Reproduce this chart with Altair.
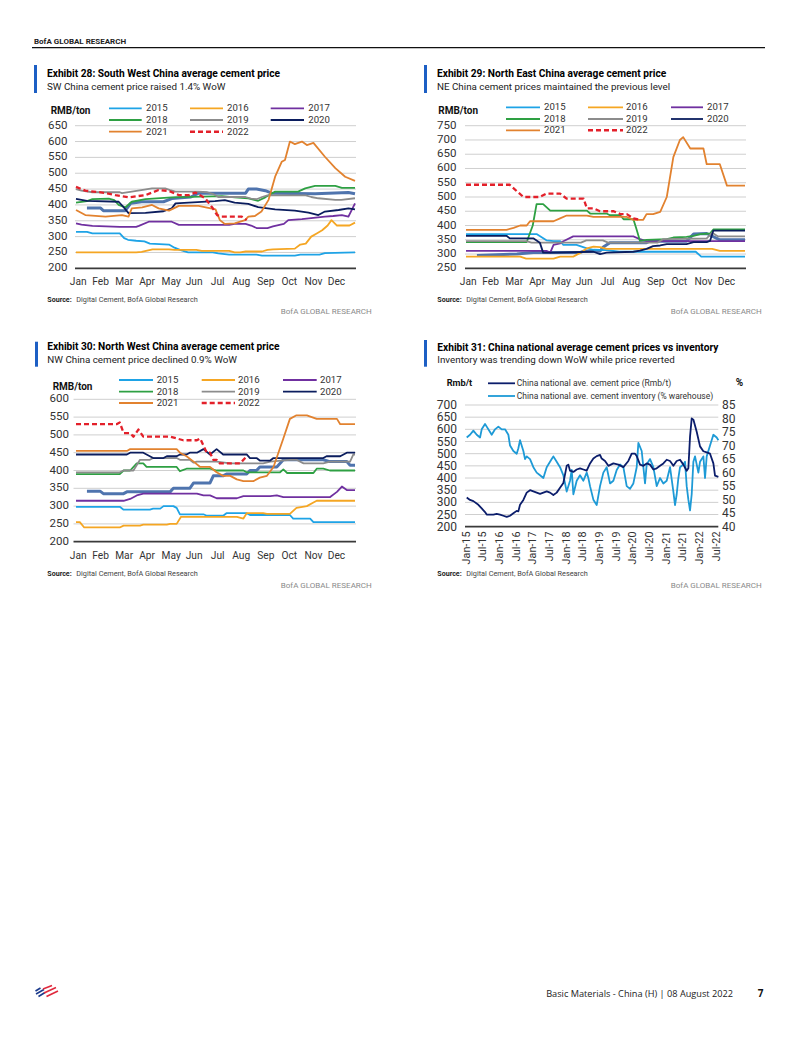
import altair as alt
import pandas as pd

# ------------------------------------------------------------------ data
months = ["Jan", "Feb", "Mar", "Apr", "May", "Jun", "Jul", "Aug", "Sep", "Oct", "Nov", "Dec"]
month_week = [0.4, 4.5, 8.8, 13.0, 17.4, 21.6, 25.9, 30.2, 34.7, 39.0, 43.4, 47.6]
legend_years = ["2015", "2016", "2017", "2018", "2019", "2020", "2021", "2022"]

sw_ticks = [200, 250, 300, 350, 400, 450, 500, 550, 600, 650]
ne_ticks = [250, 300, 350, 400, 450, 500, 550, 600, 650, 700, 750]
nw_ticks = [200, 250, 300, 350, 400, 450, 500, 550, 600]
nat_ticks_left = [200, 250, 300, 350, 400, 450, 500, 550, 600, 650, 700]
nat_ticks_right = [40, 45, 50, 55, 60, 65, 70, 75, 80, 85]
nat_xlabels = ["Jan-15", "Jul-15", "Jan-16", "Jul-16", "Jan-17", "Jul-17", "Jan-18", "Jul-18",
               "Jan-19", "Jul-19", "Jan-20", "Jul-20", "Jan-21", "Jul-21", "Jan-22", "Jul-22"]
nat_xpos = [2015.0, 2015.5, 2016.0, 2016.5, 2017.0, 2017.5, 2018.0, 2018.5,
            2019.0, 2019.5, 2020.0, 2020.5, 2021.0, 2021.5, 2022.0, 2022.5]

# --- Exhibit 28: South West China (week of year, RMB/ton)
sw_2015_w = [0, 2, 3, 8, 8.8, 9.5, 11, 12.5, 13.5, 17, 18, 19, 20.5, 25, 26, 28, 33, 34, 40, 41, 44.5, 45.5, 51]
sw_2015_v = [315, 315, 310, 310, 295, 290, 287, 285, 278, 275, 265, 258, 250, 250, 247, 243, 243, 240, 240, 243, 243, 248, 250]
sw_2016_w = [0, 11, 12, 13, 14, 17, 18, 22, 23, 28, 29, 30, 31, 34, 35, 36, 40, 41, 42, 43, 44, 45, 46, 46.7, 47.7, 50, 51]
sw_2016_v = [250, 250, 252, 256, 260, 260, 258, 258, 255, 255, 250, 250, 253, 253, 258, 260, 262, 275, 278, 300, 310, 320, 335, 352, 335, 335, 344]
sw_2017_w = [0, 1, 3, 8, 11, 11.5, 13.3, 17.5, 18.8, 28, 29, 31, 32, 33, 35, 36, 38, 38.8, 41.3, 45.5, 47, 48.6, 49.8, 51]
sw_2017_v = [342, 338, 334, 331, 331, 334, 347, 347, 337, 337, 340, 340, 335, 327, 327, 332, 340, 352, 355, 363, 365, 368, 363, 405]
sw_2018_w = [0, 2, 3, 6, 7, 7.8, 9, 10.2, 12.7, 17.5, 26.7, 29, 31.5, 33.3, 34.6, 36.4, 40.6, 41.9, 43.7, 47.4, 48.6, 51]
sw_2018_v = [407, 412, 418, 420, 415, 400, 392, 410, 418, 424, 428, 424, 421, 413, 424, 442, 442, 452, 460, 460, 454, 454]
sw_2019_w = [0, 1, 3, 8, 8.4, 10.2, 12.5, 13.9, 16.3, 17.2, 18.2, 22.4, 24, 25, 26, 31, 32, 33, 34, 35, 42, 43, 44.3, 47.4, 48.5, 51]
sw_2019_v = [450, 445, 440, 440, 437, 442, 448, 452, 452, 447, 442, 442, 440, 435, 425, 425, 420, 418, 425, 430, 430, 425, 421, 416, 416, 421]
sw_2020_w = [0, 2, 7.8, 8.6, 9.6, 12.7, 16, 17.5, 18.2, 25.4, 27.2, 29, 31.5, 33.3, 36.4, 40, 42.5, 44.3, 45.5, 48, 49.8, 51]
sw_2020_v = [419, 413, 410, 395, 374, 375, 380, 389, 405, 412, 415, 407, 403, 393, 386, 382, 376, 368, 379, 384, 389, 386]
sw_2021_w = [0, 1.7, 5.4, 8.4, 9.6, 10.2, 12.1, 13.9, 15.1, 17, 18.8, 22.4, 25.5, 26.3, 27.2, 29, 30.9, 31.5, 32.7, 33.9,
             35.2, 36.4, 37.6, 38.2, 39.1, 40, 41.3, 42.2, 43.4, 45.5, 47.4, 49.2, 51]
sw_2021_v = [384, 368, 363, 368, 363, 389, 392, 400, 389, 382, 397, 397, 386, 352, 340, 342, 352, 363, 365, 379,
             416, 489, 536, 542, 600, 592, 600, 589, 596, 552, 516, 489, 476]
sw_2022_w = [0, 1.7, 4.8, 7.2, 9.6, 12.7, 15.1, 17, 18.8, 20.6, 21.8, 23.6, 24.9, 25.8, 26.6, 30.3, 31.2]
sw_2022_v = [457, 445, 439, 431, 424, 431, 447, 444, 431, 431, 439, 421, 392, 368, 363, 363, 352]
sw_other_w = [2, 4.5, 5, 9, 10, 12, 16, 17.5, 21, 22.4, 31, 31.5, 33, 34.6, 35.8, 43.7, 49.8, 51]
sw_other_v = [390, 390, 382, 382, 405, 410, 410, 420, 425, 437, 437, 450, 450, 445, 437, 435, 439, 435]

# --- Exhibit 29: North East China
ne_2015_w = [0, 12.9, 14.7, 16, 17.2, 17.8, 20.2, 22.1, 23.3, 25.7, 28, 42, 43, 51]
ne_2015_v = [370, 370, 348, 345, 345, 332, 332, 320, 315, 314, 308, 308, 291, 291]
ne_2016_w = [0, 9.9, 11, 16, 17.2, 19.6, 21, 22.1, 23.3, 24.5, 25.7, 45, 46.4, 51]
ne_2016_v = [291, 291, 284, 284, 291, 291, 305, 320, 326, 324, 318, 318, 311, 311]
ne_2017_w = [0, 14.7, 15.4, 16, 17.2, 17.8, 19.6, 30.6, 31.8, 33, 51]
ne_2017_v = [311, 311, 305, 332, 337, 345, 362, 362, 352, 345, 345]
ne_2018_w = [0, 11.1, 12.2, 12.9, 14.1, 15.4, 22.1, 22.7, 25.7, 26.3, 28.2, 28.8, 30.6, 31.2, 31.8, 33, 36.7,
             37.9, 40.3, 41.6, 42.8, 44.6, 45.2, 51]
ne_2018_v = [342, 342, 400, 475, 475, 452, 452, 442, 442, 436, 436, 422, 422, 385, 346, 350, 352,
             358, 360, 364, 370, 372, 386, 386]
ne_2019_w = [0, 11, 12, 17, 21, 22, 25, 26, 35, 36, 44, 45, 46, 51]
ne_2019_v = [345, 345, 340, 340, 340, 348, 348, 340, 340, 352, 355, 375, 362, 362]
ne_2020_w = [0, 7.4, 8.0, 12.3, 13.5, 14.1, 16, 23.3, 24.5, 25.7, 30.6, 31.8, 33, 34.2, 35.5, 36.7, 40.3, 41.6,
             44, 44.6, 45.2, 51]
ne_2020_v = [364, 364, 355, 355, 340, 305, 305, 308, 300, 305, 308, 312, 318, 328, 330, 335, 335, 342,
             342, 346, 382, 382]
ne_2021_w = [0, 7.4, 8.7, 9.9, 11.1, 11.7, 16, 17.2, 18.4, 22.1, 23.3, 29.4, 30.6, 32.4, 33, 34.2, 35.5, 36.7,
             37.9, 39.1, 39.7, 41, 43.4, 44, 46.4, 47.7, 51]
ne_2021_v = [385, 385, 392, 400, 400, 415, 415, 425, 435, 435, 430, 430, 420, 420, 440, 440, 448, 500,
             640, 700, 710, 670, 670, 615, 615, 540, 540]
ne_2022_w = [0, 8, 9.3, 10.5, 13.5, 14.7, 17.2, 18.4, 21.5, 22.1, 23.3, 24.5, 27, 28.2, 29.4, 30.6, 31.8]
ne_2022_v = [543, 543, 520, 500, 500, 512, 512, 494, 494, 460, 460, 450, 450, 440, 440, 425, 420]
ne_other_w = [2, 9.3, 12.3, 20.8, 21.5, 24.5, 25.1, 26.3, 33, 33.6, 40.3, 41.6, 44, 46.4, 51]
ne_other_v = [295, 300, 305, 305, 310, 310, 325, 340, 340, 345, 345, 370, 372, 350, 350]

# --- Exhibit 30: North West China
nw_2015_w = [0, 8, 8.7, 13.5, 14.1, 15.4, 16, 17.8, 18.4, 19, 23.3, 23.9, 26.9, 27.5, 31.2, 31.8, 39.1, 39.7,
             42.8, 43.4, 51]
nw_2015_v = [298, 298, 290, 290, 293, 293, 300, 300, 295, 277, 277, 273, 273, 280, 280, 275, 275, 265,
             265, 255, 255]
nw_2016_w = [0, 0.7, 1.5, 8, 8.7, 11.7, 12.3, 16.6, 17.2, 18.4, 19.2, 29.4, 30.6, 31.2, 34.2, 34.9, 39.1, 40.3,
             42.2, 43.4, 44, 51]
nw_2016_v = [255, 255, 240, 240, 245, 245, 248, 248, 250, 250, 270, 270, 265, 280, 280, 278, 278, 295,
             300, 310, 315, 315]
nw_2017_w = [0, 8.7, 9.9, 11.1, 12.3, 22.1, 23.3, 24.5, 25.7, 29.4, 30.6, 35.5, 36.7, 37.9, 46.4, 47.7, 48.6,
             49.5, 51]
nw_2017_v = [315, 315, 320, 330, 335, 335, 330, 330, 322, 322, 328, 328, 330, 325, 325, 340, 355, 345, 345]
nw_2018_w = [0, 8, 8.7, 9.9, 11.1, 12.3, 12.9, 18.4, 19, 20.2, 24.5, 25.7, 30.6, 31.2, 37.3, 37.9, 38.6, 43.4,
             44, 45.2, 46.4, 51]
nw_2018_v = [390, 390, 400, 400, 420, 420, 410, 410, 398, 405, 405, 400, 400, 395, 395, 403, 393, 393,
             405, 405, 400, 400]
nw_2019_w = [0, 8, 8.7, 10.5, 11.7, 13.5, 14.1, 18.4, 19, 20.8, 21.5, 22.1, 25.7, 28.2, 34.2, 35.5, 39.1, 40.3,
             41.6, 45.2, 46.4, 50.1, 50.7, 51]
nw_2019_v = [395, 395, 400, 400, 430, 430, 435, 435, 430, 430, 422, 425, 425, 420, 420, 425, 430, 430,
             420, 420, 425, 425, 445, 445]
nw_2020_w = [0, 9.3, 9.9, 12.3, 12.9, 14.1, 16, 16.6, 18.4, 19, 20.2, 20.8, 22.1, 23.3, 24.5, 25.7, 26.9, 31.2,
             31.8, 33, 33.6, 35.5, 36.1, 45.2, 45.8, 48.3, 49.5, 51]
nw_2020_v = [445, 445, 450, 450, 445, 435, 435, 440, 440, 445, 445, 450, 450, 460, 445, 460, 445, 445,
             435, 435, 428, 428, 435, 435, 440, 440, 450, 450]
nw_2021_w = [0, 9.3, 9.9, 18.4, 19, 20.2, 21.5, 22.7, 24.5, 25.7, 26.9, 28.2, 29.4, 30.6, 32.4, 33.6, 34.9, 36.1,
             37, 37.9, 39.1, 40.3, 42.2, 44, 47.7, 48.3, 51]
nw_2021_v = [455, 455, 460, 460, 450, 440, 425, 410, 410, 395, 385, 385, 375, 370, 370, 380, 385, 410,
             450, 490, 545, 555, 555, 545, 545, 530, 530]
nw_2022_w = [0, 7.4, 8, 8.7, 9.9, 10.5, 11.4, 12.3, 17.2, 18.4, 19.6, 22.1, 22.7, 23.3, 23.9, 24.5, 25.1, 25.7,
             26.3, 30, 31.2]
nw_2022_v = [530, 530, 535, 505, 505, 495, 515, 495, 495, 490, 485, 485, 490, 470, 450, 450, 430, 430,
             420, 420, 440]
nw_other_w = [2, 4.4, 5, 8.7, 9.3, 17.2, 17.8, 20.8, 21.5, 24.5, 25.1, 26.9, 27.5, 31.2, 31.8, 33, 33.6, 36.7,
              37.9, 45.2, 46.4, 49.5, 50.1, 51]
nw_other_v = [342, 342, 335, 335, 340, 340, 350, 350, 365, 365, 385, 385, 390, 390, 400, 400, 410, 410,
              430, 430, 425, 425, 415, 415]

# --- Exhibit 31: national price (Rmb/t) and inventory (% warehouse)
nat_price_t = [2015.00, 2015.10, 2015.20, 2015.35, 2015.45, 2015.55, 2015.60, 2015.80, 2015.90, 2016.00,
               2016.10, 2016.20, 2016.30, 2016.40, 2016.50, 2016.55, 2016.60, 2016.70, 2016.80, 2016.90,
               2017.00, 2017.10, 2017.20, 2017.30, 2017.40, 2017.50, 2017.60, 2017.70, 2017.80, 2017.90,
               2018.00, 2018.05, 2018.10, 2018.20, 2018.30, 2018.40, 2018.50, 2018.60, 2018.70, 2018.80,
               2018.90, 2019.00, 2019.05, 2019.15, 2019.25, 2019.40, 2019.55, 2019.70, 2019.85, 2019.95,
               2020.05, 2020.10, 2020.20, 2020.30, 2020.40, 2020.50, 2020.60, 2020.70, 2020.80, 2020.90,
               2021.00, 2021.10, 2021.20, 2021.30, 2021.40, 2021.50, 2021.60, 2021.65, 2021.70, 2021.75,
               2021.80, 2021.90, 2022.00, 2022.10, 2022.20, 2022.30, 2022.40, 2022.45, 2022.55]
nat_price_v = [320, 310, 305, 290, 275, 260, 250, 250, 253, 250,
               245, 240, 245, 255, 265, 263, 290, 310, 340, 350,
               345, 340, 335, 340, 345, 340, 330, 340, 360, 380,
               450, 455, 430, 425, 435, 440, 435, 430, 460, 480,
               490, 495, 480, 470, 450, 460, 455, 445, 470, 500,
               500, 490, 455, 450, 460, 455, 435, 440, 450, 460,
               475, 470, 450, 470, 475, 455, 430, 440, 570, 645,
               640, 590, 530, 510, 505, 500, 460, 410, 405]
nat_inv_t = [2015.00, 2015.10, 2015.20, 2015.30, 2015.40, 2015.45, 2015.55, 2015.60, 2015.70, 2015.75,
             2015.85, 2015.95, 2016.05, 2016.15, 2016.25, 2016.30, 2016.40, 2016.50, 2016.55, 2016.60,
             2016.70, 2016.75, 2016.80, 2016.90, 2017.00, 2017.10, 2017.20, 2017.30, 2017.40, 2017.45,
             2017.55, 2017.60, 2017.70, 2017.80, 2017.90, 2018.00, 2018.10, 2018.15, 2018.20, 2018.30,
             2018.40, 2018.50, 2018.60, 2018.65, 2018.70, 2018.80, 2018.90, 2019.00, 2019.10, 2019.20,
             2019.30, 2019.40, 2019.50, 2019.60, 2019.70, 2019.80, 2019.90, 2020.00, 2020.10, 2020.15,
             2020.25, 2020.30, 2020.35, 2020.40, 2020.50, 2020.60, 2020.70, 2020.80, 2020.90, 2021.00,
             2021.10, 2021.20, 2021.25, 2021.30, 2021.35, 2021.40, 2021.50, 2021.55, 2021.60, 2021.65,
             2021.70, 2021.75, 2021.80, 2021.85, 2021.95, 2022.00, 2022.10, 2022.15, 2022.20, 2022.30,
             2022.40, 2022.50, 2022.55]
nat_inv_v = [73, 74, 75.5, 74, 73, 76, 78, 77, 75, 74,
             76, 77, 76, 76, 74, 70, 68, 67, 69, 72,
             68, 65, 66, 65, 62, 60, 59, 58, 62, 63,
             65, 66, 64, 62, 59, 53, 57, 61, 52, 57,
             59, 57, 60, 58, 55, 50, 48, 55, 60, 62,
             56, 57, 61, 63, 62, 55, 54, 56, 62, 71,
             68, 62, 56, 63, 65, 62, 55, 58, 56, 57,
             62, 53, 48, 52, 58, 62, 63, 64, 55, 50,
             46, 52, 64, 66, 60, 64, 66, 58, 66, 70,
             74, 73, 72]

# ------------------------------------------------------------------ styles
FONT = "Roboto"
NARROW = "Roboto"
COL = {"2015": "#1ea3e6", "2016": "#f5a623", "2017": "#7030a0", "2018": "#2ea043",
       "2019": "#8c8c8c", "2020": "#0b1d5e", "2021": "#e2822f", "2022": "#e3202a",
       "other": "#4f74ae"}
BLUE_BAR = "#1d5fc4"
GRID = "#cfcfcf"
TXT = "#333333"


def P(v):
    """page pixel -> chart pixel (page has an 8px margin)"""
    return v - 8


ONE = alt.Data(values=[{"t": ""}])


def text(s, x, y, size, bold=False, color="#000000", align="left", font=FONT):
    return alt.Chart(alt.Data(values=[{"t": s}])).mark_text(
        align=align, baseline="middle", fontSize=size, font=font,
        fontWeight="bold" if bold else "normal", color=color
    ).encode(x=alt.value(P(x)), y=alt.value(P(y)), text="t:N")


def rect(x1, x2, y1, y2, color):
    return alt.Chart(ONE).mark_rect(color=color).encode(
        x=alt.value(P(x1)), x2=alt.value(P(x2)), y=alt.value(P(y1)), y2=alt.value(P(y2)))


def seg(x1, y1, x2, y2, color, width=1.0, dash=None):
    kw = dict(color=color, strokeWidth=width)
    if dash:
        kw["strokeDash"] = dash
    return alt.Chart(ONE).mark_rule(**kw).encode(
        x=alt.value(P(x1)), x2=alt.value(P(x2)), y=alt.value(P(y1)), y2=alt.value(P(y2)))


def lin_scale(dom, r0, r1):
    return alt.Scale(domain=dom, range=[P(r0), P(r1)], nice=False, zero=False)


def series(xv, yv, xs, ys, color, width=1.8, dash=None):
    kw = dict(color=color, strokeWidth=width, strokeJoin="round")
    if dash:
        kw["strokeDash"] = dash
    df = pd.DataFrame({"x": xv, "y": yv})
    return alt.Chart(df).mark_line(**kw).encode(
        x=alt.X("x:Q", scale=xs, axis=None), y=alt.Y("y:Q", scale=ys, axis=None))


def hgrid(ticks, ys, xa, xb):
    df = pd.DataFrame({"v": ticks[1:]})
    base = pd.DataFrame({"v": ticks[:1]})
    g = alt.Chart(df).mark_rule(color=GRID, strokeWidth=1).encode(
        y=alt.Y("v:Q", scale=ys, axis=None), x=alt.value(P(xa)), x2=alt.value(P(xb)))
    b = alt.Chart(base).mark_rule(color="#3a3a3a", strokeWidth=1.8).encode(
        y=alt.Y("v:Q", scale=ys, axis=None), x=alt.value(P(xa)), x2=alt.value(P(xb)))
    return [g, b]


def ylabels(ticks, ys, x, align="right", size=11.5):
    df = pd.DataFrame({"v": ticks})
    return alt.Chart(df).mark_text(align=align, baseline="middle", fontSize=size, font=FONT,
                                   color=TXT).encode(
        y=alt.Y("v:Q", scale=ys, axis=None), x=alt.value(P(x)), text=alt.Text("v:Q", format="d"))


def xmonths(xs, y):
    df = pd.DataFrame({"m": months, "w": month_week})
    return alt.Chart(df).mark_text(align="center", baseline="middle", fontSize=10.2, font=FONT,
                                   color=TXT).encode(
        x=alt.X("w:Q", scale=xs, axis=None), y=alt.value(P(y)), text="m:N")


def legend(rows_y, sw_x, lab_x):
    out = []
    for i, yr in enumerate(legend_years):
        r, c = divmod(i, 3)
        y = rows_y[r]
        if yr == "2022":
            out.append(seg(sw_x[c][0], y, sw_x[c][1], y, COL[yr], 2.4, [5, 3]))
        else:
            out.append(seg(sw_x[c][0], y, sw_x[c][1], y, COL[yr], 1.8))
        out.append(text(yr, lab_x[c], y, 9.6, color=TXT, font=NARROW))
    return out


def header(bar_x, bar_y, tx, ty, title, sub):
    return [rect(bar_x, bar_x + 3, bar_y[0], bar_y[1], BLUE_BAR),
            text(title, tx, ty[0], 10.2, bold=True, color="#000000"),
            text(sub, tx, ty[1], 9.8, color="#222222")]


def footer_src(x, y, bx, by):
    return [text("Source:", x, y, 7.1, bold=True, color="#222222"),
            text("Digital Cement, BofA Global Research", x + 29, y, 7.3, color="#444444"),
            text("BofA GLOBAL RESEARCH", bx, by, 8, color="#8a8a8a", align="right")]


def year_panel(data, xs, ys, ticks, grid_x, ylab_x, unit_xy, xlab_y, leg_rows, leg_sw, leg_lab):
    L = []
    L += hgrid(ticks, ys, grid_x[0], grid_x[1])
    L.append(ylabels(ticks, ys, ylab_x))
    L.append(xmonths(xs, xlab_y))
    L.append(text("RMB/ton", unit_xy[0], unit_xy[1], 10, bold=True, color="#111111"))
    w, v = data["other"]
    L.append(series(w, v, xs, ys, COL["other"], 3.0))
    for yr in legend_years:
        w, v = data[yr]
        if yr == "2022":
            L.append(series(w, v, xs, ys, COL[yr], 2.3, [5, 3]))
        else:
            L.append(series(w, v, xs, ys, COL[yr], 1.8))
    L += legend(leg_rows, leg_sw, leg_lab)
    return L


layers = []

# page header
layers.append(text("BofA GLOBAL RESEARCH", 34, 42, 8, bold=True, color="#222222"))
layers.append(seg(32, 47.7, 765, 47.7, "#111111", 1.2))

# ---------------- Exhibit 28
sw = {"2015": (sw_2015_w, sw_2015_v), "2016": (sw_2016_w, sw_2016_v), "2017": (sw_2017_w, sw_2017_v),
      "2018": (sw_2018_w, sw_2018_v), "2019": (sw_2019_w, sw_2019_v), "2020": (sw_2020_w, sw_2020_v),
      "2021": (sw_2021_w, sw_2021_v), "2022": (sw_2022_w, sw_2022_v), "other": (sw_other_w, sw_other_v)}
layers += header(34, (65, 93), 47, (73.8, 86.7),
                 "Exhibit 28: South West China average cement price", "SW China cement price raised 1.4% WoW")
xs28 = lin_scale([0, 51], 76, 355)
ys28 = lin_scale([200, 650], 268.3, 125.7)
layers += year_panel(sw, xs28, ys28, sw_ticks, (75, 356), 67.5, (50.7, 110.7), 281.7,
                     (108.3, 120, 131.7), [(109, 141.7), (190, 223), (270.7, 304)], [146, 227, 308.3])
layers += footer_src(47.3, 300, 371.7, 311.7)

# ---------------- Exhibit 29
ne = {"2015": (ne_2015_w, ne_2015_v), "2016": (ne_2016_w, ne_2016_v), "2017": (ne_2017_w, ne_2017_v),
      "2018": (ne_2018_w, ne_2018_v), "2019": (ne_2019_w, ne_2019_v), "2020": (ne_2020_w, ne_2020_v),
      "2021": (ne_2021_w, ne_2021_v), "2022": (ne_2022_w, ne_2022_v), "other": (ne_other_w, ne_other_v)}
layers += header(424, (65, 93), 437, (73.8, 86.7),
                 "Exhibit 29: North East China average cement price",
                 "NE China cement prices maintained the previous level")
xs29 = lin_scale([0, 51], 466, 745)
ys29 = lin_scale([250, 750], 268.3, 125.7)
layers += year_panel(ne, xs29, ys29, ne_ticks, (465, 746), 456.5, (438.3, 110.7), 281.7,
                     (107.3, 119, 130.3), [(506, 540), (588, 623), (671, 703)], [544, 626, 707])
layers += footer_src(437.3, 300, 761.7, 311.7)

# ---------------- Exhibit 30
nw = {"2015": (nw_2015_w, nw_2015_v), "2016": (nw_2016_w, nw_2016_v), "2017": (nw_2017_w, nw_2017_v),
      "2018": (nw_2018_w, nw_2018_v), "2019": (nw_2019_w, nw_2019_v), "2020": (nw_2020_w, nw_2020_v),
      "2021": (nw_2021_w, nw_2021_v), "2022": (nw_2022_w, nw_2022_v), "other": (nw_other_w, nw_other_v)}
layers += header(35, (341.7, 366.7), 47.3, (347.3, 360.3),
                 "Exhibit 30: North West China average cement price", "NW China cement price declined 0.9% WoW")
xs30 = lin_scale([0, 51], 76, 355)
ys30 = lin_scale([200, 600], 541.7, 399.3)
layers += year_panel(nw, xs30, ys30, nw_ticks, (73.5, 356), 69, (52.7, 386.7), 555.7,
                     (380, 391.7, 403), [(119, 153), (201.7, 235), (283, 316.7)], [156.7, 238, 320])
layers += footer_src(47.3, 574.3, 371.7, 585.7)

# ---------------- Exhibit 31
layers += header(424, (340, 366.7), 437.3, (347.7, 360.3),
                 "Exhibit 31: China national average cement prices vs inventory",
                 "Inventory was trending down WoW while price reverted")
xs31 = lin_scale([2015.0, 2022.5], 466.7, 716.7)
ys31 = lin_scale([200, 700], 526.7, 405)
ys31r = lin_scale([40, 85], 526.7, 405)
layers += hgrid(nat_ticks_left, ys31, 465, 718.3)
layers.append(ylabels(nat_ticks_left, ys31, 457, size=12))
layers.append(ylabels(nat_ticks_right, ys31r, 722, align="left", size=12))
layers.append(alt.Chart(pd.DataFrame({"l": nat_xlabels, "x": nat_xpos})).mark_text(
    align="right", baseline="middle", angle=270, fontSize=10.8, font=FONT, color=TXT).encode(
    x=alt.X("x:Q", scale=xs31, axis=None), y=alt.value(P(531.5)), text="l:N"))
layers.append(series(nat_inv_t, nat_inv_v, xs31, ys31r, "#1e9ad6", 1.8))
layers.append(series(nat_price_t, nat_price_v, xs31, ys31, "#0b1d6b", 1.8))
layers.append(text("Rmb/t", 446.7, 383.3, 9.2, bold=True, color="#111111"))
layers.append(text("%", 739.5, 383.3, 10, bold=True, color="#111111", align="center"))
layers.append(seg(488, 383.3, 515, 383.3, "#0b1d6b", 1.8))
layers.append(seg(488, 396, 515, 396, "#1e9ad6", 1.8))
layers.append(text("China national ave. cement price (Rmb/t)", 516.7, 383.3, 8.5, color=TXT, font=NARROW))
layers.append(text("China national ave. cement inventory (% warehouse)", 516.7, 396, 8.5, color=TXT, font=NARROW))
layers += footer_src(437.3, 574.3, 761.7, 585.7)

# ---------------- page footer
for (x1, y1, x2, y2) in [(35.5, 991, 40.5, 988), (36, 994, 44, 989.5), (38.5, 996.5, 45, 992.5)]:
    layers.append(seg(x1, y1, x2, y2, "#1b3a8c", 1.6))
for (x1, y1, x2, y2) in [(43, 989, 52, 985.5), (44, 993, 56, 987.5), (46.5, 996.5, 58, 991)]:
    layers.append(seg(x1, y1, x2, y2, "#e0283c", 1.6))
layers.append(text("Basic Materials - China (H) | 08 August 2022", 733, 993.7, 9.2, color="#222222",
                   align="right", font="Open Sans"))
layers.append(text("7", 760.5, 993.7, 10, bold=True, color="#111111", align="center", font="Open Sans"))

chart = alt.layer(*layers).resolve_scale(x="independent", y="independent").properties(
    width=786, height=1021, padding=0,
    autosize=alt.AutoSizeParams(type="none")
).configure_view(strokeWidth=0)

chart.save("out.html", embed_options={"renderer": "svg", "actions": False})
